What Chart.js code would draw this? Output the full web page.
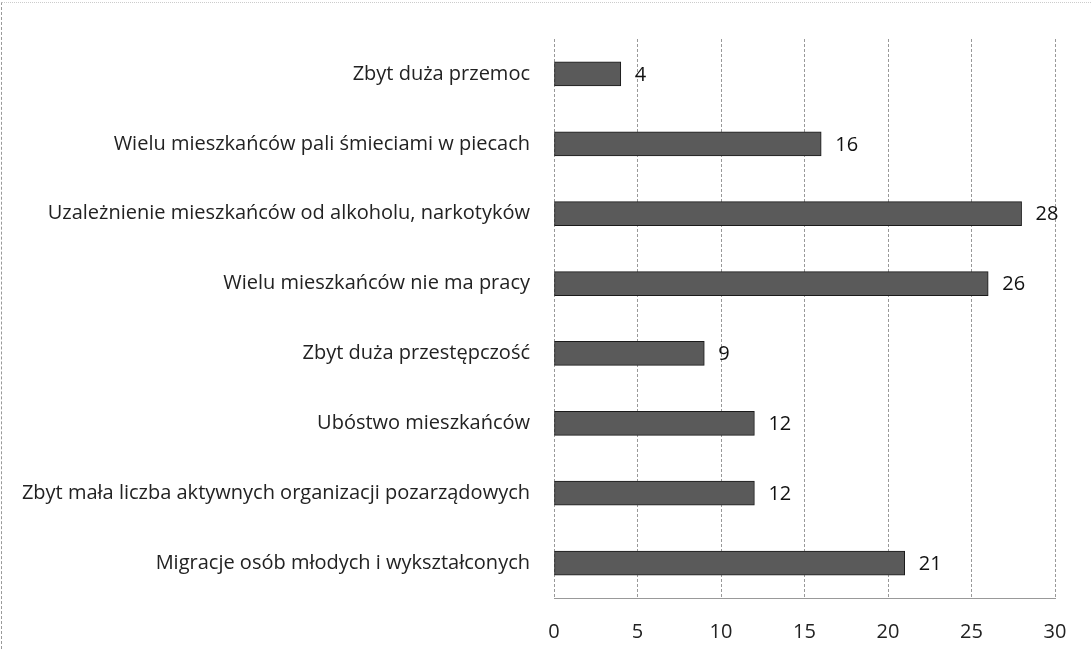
<!DOCTYPE html>
<html>
<head>
<meta charset="utf-8">
<script src="https://cdn.jsdelivr.net/npm/chart.js@4/dist/chart.umd.min.js"></script>
<style>
  html, body { margin: 0; padding: 0; background: #fff; }
  #wrap { position: relative; width: 1091px; height: 649px; }
  #wrap::before { content: ''; position: absolute; left: 1px; top: 2px; right: 0; bottom: 0;
    border-left: 1px dashed #999; border-top: 1px dotted #ccc; pointer-events: none; }
</style>
</head>
<body>
<div id="wrap"><canvas id="myChart" width="1091" height="649"></canvas></div>
<script>
const categories = [
  'Zbyt duża przemoc',
  'Wielu mieszkańców pali śmieciami w piecach',
  'Uzależnienie mieszkańców od alkoholu, narkotyków',
  'Wielu mieszkańców nie ma pracy',
  'Zbyt duża przestępczość',
  'Ubóstwo mieszkańców',
  'Zbyt mała liczba aktywnych organizacji pozarządowych',
  'Migracje osób młodych i wykształconych'
];
const values = [4, 16, 28, 26, 9, 12, 12, 21];
const xTicks = [0, 5, 10, 15, 20, 25, 30];

const fontFamily = 'Open Sans, Liberation Sans, sans-serif';

// value labels to the right of each bar
const valueLabels = {
  id: 'valueLabels',
  afterDatasetsDraw(chart) {
    const ctx = chart.ctx;
    const meta = chart.getDatasetMeta(0);
    ctx.save();
    ctx.font = '20px ' + fontFamily;
    ctx.fillStyle = '#111';
    ctx.textAlign = 'left';
    ctx.textBaseline = 'middle';
    meta.data.forEach((bar, i) => {
      ctx.fillText(String(values[i]), bar.x + 14, bar.y + 1);
    });
    ctx.restore();
  }
};

const ctx = document.getElementById('myChart').getContext('2d');
new Chart(ctx, {
  type: 'bar',
  data: {
    labels: categories,
    datasets: [{
      data: values,
      backgroundColor: '#5a5a5a',
      borderColor: '#1a1a1a',
      borderWidth: 1,
      borderSkipped: false,
      barThickness: 24
    }]
  },
  options: {
    indexAxis: 'y',
    responsive: false,
    animation: false,
    layout: { padding: { top: 39, right: 36, left: 0, bottom: 0 } },
    plugins: { legend: { display: false }, tooltip: { enabled: false } },
    scales: {
      x: {
        min: 0,
        max: 30,
        afterBuildTicks(scale) { scale.ticks = xTicks.map(v => ({ value: v })); },
        afterFit(scale) { scale.height = 51; },
        grid: {
          color: '#999',
          drawTicks: false,
          lineWidth: 1
        },
        border: { display: true, dash: [3, 2], color: '#999' },
        ticks: { color: '#222', padding: 22, font: { size: 20, family: fontFamily } }
      },
      y: {
        afterFit(scale) { scale.width = 554; },
        grid: { display: false, drawTicks: false },
        border: { display: false },
        ticks: { color: '#222', padding: 24, font: { size: 20, family: fontFamily } }
      }
    }
  },
  plugins: [valueLabels]
});
</script>
</body>
</html>
